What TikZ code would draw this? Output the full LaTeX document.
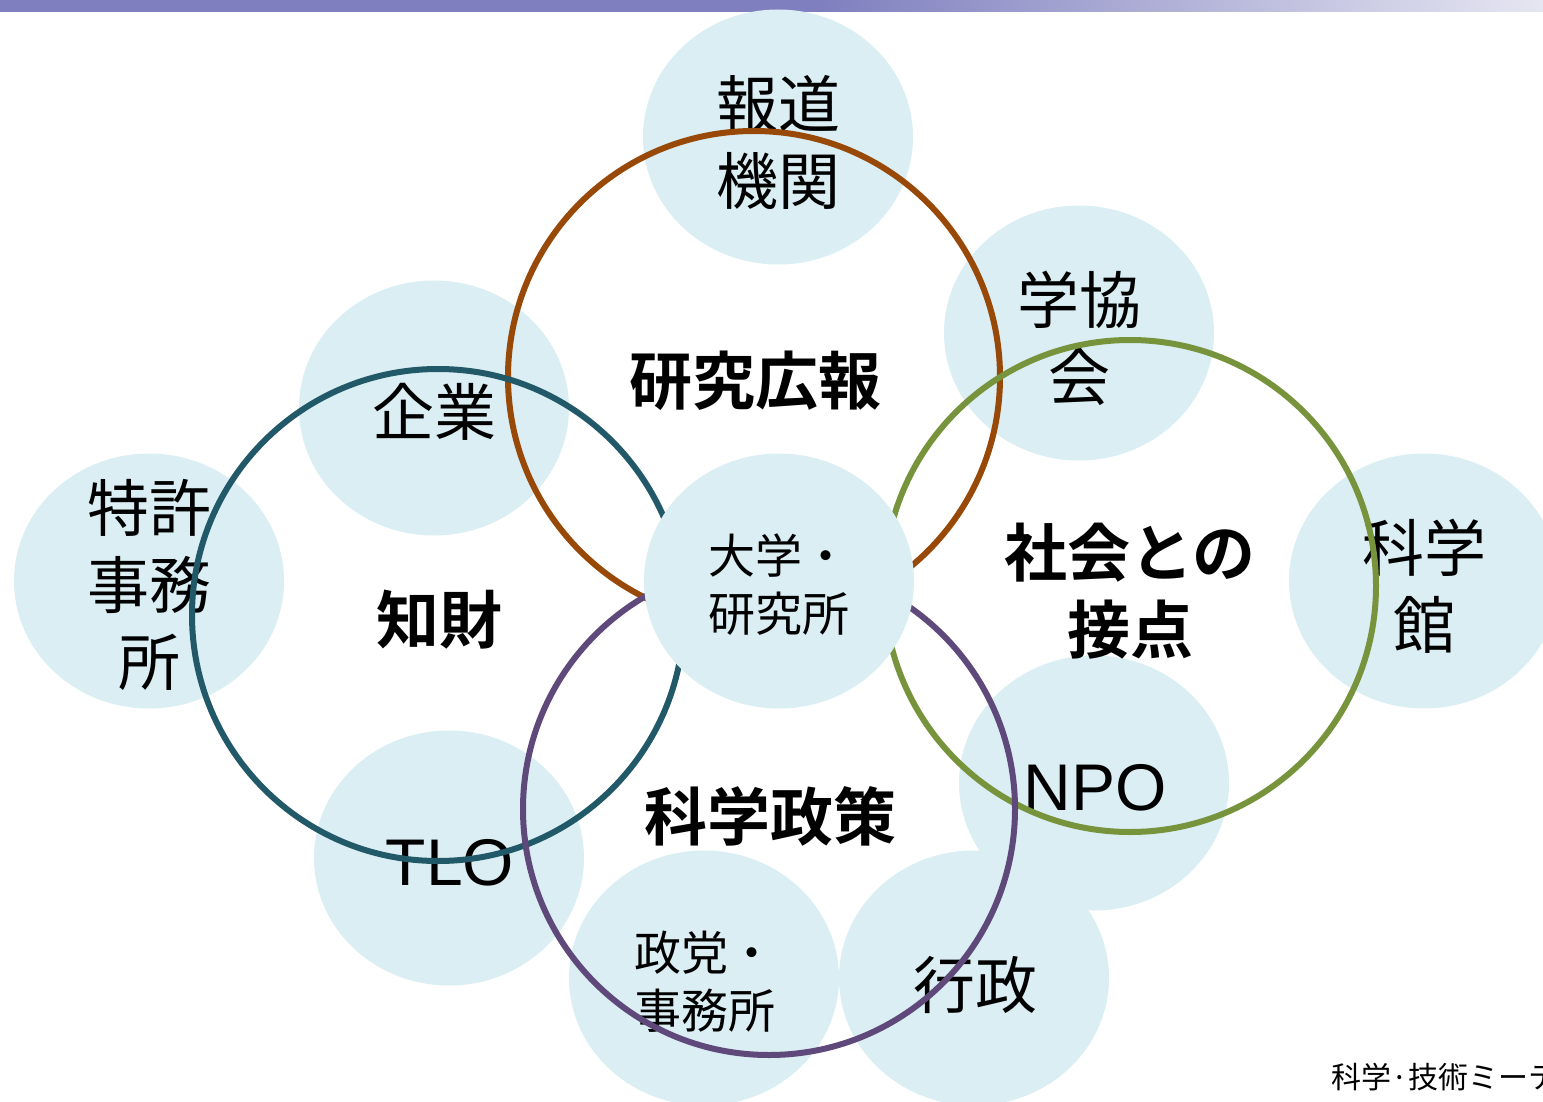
\documentclass[tikz,border=0pt]{standalone}
\usepackage{fontspec}
\newfontfamily\jp{Noto Sans CJK JP}[BoldFont={Noto Sans CJK JP Bold}]
\newfontfamily\lat{Liberation Sans}
\usetikzlibrary{shapes.geometric}
\definecolor{bubble}{HTML}{DAEEF3}
\definecolor{barpurple}{HTML}{7F7FBF}
\definecolor{barlight}{HTML}{E6E6F2}
\definecolor{ringbrown}{HTML}{984807}
\definecolor{ringteal}{HTML}{215968}
\definecolor{ringgreen}{HTML}{77933C}
\definecolor{ringpurple}{HTML}{5F497A}
\tikzset{
  bubblebox/.style={ellipse, fill=bubble, minimum width=270pt, minimum height=255pt, inner sep=0pt},
  ringbox/.style={circle, draw=#1, line width=6pt, minimum size=492pt, inner sep=0pt},
  biglabel/.style={font=\jp\fontsize{62}{77}\selectfont, align=center, inner sep=0pt},
  boldlabel/.style={font=\jp\bfseries\fontsize{63}{77}\selectfont, align=center, inner sep=0pt},
  smalllabel/.style={font=\jp\fontsize{47}{58}\selectfont, align=center, inner sep=0pt},
  latlabel/.style={font=\lat\fontsize{66}{77}\selectfont, inner sep=0pt},
}
\begin{document}
\begin{tikzpicture}[x=1pt,y=-1pt]
\useasboundingbox (0,0) rectangle (1543,1102);
% top bar
\fill[barpurple] (0,0) rectangle (820,12);
\shade[left color=barpurple, right color=barlight] (819.5,0) rectangle (1543,12);
% outer bubbles
\node[bubblebox] (b-media) at (778,137) {};
\node[bubblebox] (b-soc) at (1079,333) {};
\node[bubblebox] (b-corp) at (434,408) {};
\node[bubblebox] (b-patent) at (149,581) {};
\node[bubblebox] (b-museum) at (1424,581) {};
\node[bubblebox] (b-tlo) at (449,858) {};
\node[bubblebox] (b-npo) at (1094,783) {};
\node[bubblebox] (b-party) at (704,978) {};
\node[bubblebox] (b-gov) at (974,978) {};
% labels of outer bubbles
\node[biglabel] (t-media) at (778,143) {報道\\機関};
\node[biglabel] (t-soc) at (1079,338) {学協\\会};
\node[biglabel] (t-corp) at (434,412) {企業};
\node[biglabel] (t-patent) at (149,585) {特許\\事務\\所};
\node[biglabel] (t-museum) at (1424,586) {科学\\館};
\node[latlabel] (t-tlo) at (450,863) {TLO};
\node[latlabel] (t-npo) at (1095,788) {NPO};
\node[smalllabel, align=left] (t-party) at (705,982) {政党・\\事務所};
\node[biglabel] (t-gov) at (975,985) {行政};
% rings
\node[ringbox=ringbrown] (r-pr) at (754,377) {};
\node[ringbox=ringteal] (r-ip) at (438,615) {};
\node[ringbox=ringgreen] (r-social) at (1130,586) {};
\node[ringbox=ringpurple] (r-policy) at (769,809) {};
% ring titles
\node[boldlabel] (t-pr) at (755,381) {研究広報};
\node[boldlabel] (t-ip) at (439,620) {知財};
\node[boldlabel] (t-social) at (1130,591) {社会との\\接点};
\node[boldlabel] (t-policy) at (770,816) {科学政策};
% centre bubble
\node[bubblebox] (b-univ) at (779,581) {};
\node[smalllabel, align=left] (t-univ) at (779,585) {大学・\\研究所};
% footer
\node[font=\jp\fontsize{30}{36}\selectfont, anchor=west, inner sep=0pt] (footer) at (1331,1077) {科学·技術ミーテ};
\end{tikzpicture}
\end{document}
